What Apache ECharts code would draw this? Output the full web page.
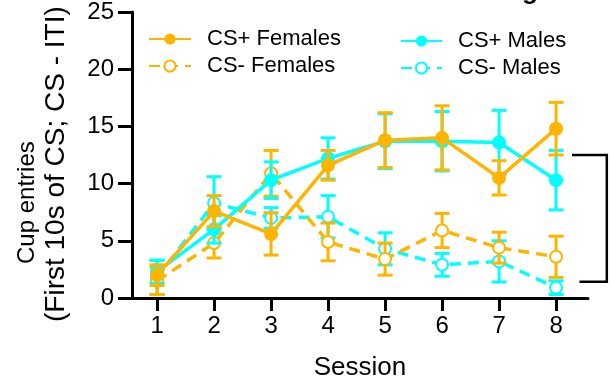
<!DOCTYPE html>
<html><head><meta charset="utf-8">
<script src="https://cdn.jsdelivr.net/npm/echarts@6/dist/echarts.min.js"></script>
<style>html,body{margin:0;padding:0;background:#fff}#c{width:611px;height:386px}</style>
</head><body><div id="c"></div>
<script>
const sessions = [1, 2, 3, 4, 5, 6, 7, 8];

const csPlusFemales    = [2.0, 7.6, 5.6, 11.6, 13.8, 14.0, 10.5, 14.8];
const csPlusFemalesErr = [0.9, 1.35, 1.85, 1.3, 2.4, 2.8, 1.5, 2.3];
const csMinusFemales    = [1.5, 4.8, 10.9, 4.9, 3.4, 5.9, 4.4, 3.6];
const csMinusFemalesErr = [1.2, 1.3, 2.0, 1.65, 1.4, 1.5, 1.35, 1.8];
const csPlusMales    = [2.3, 6.0, 10.3, 12.2, 13.7, 13.7, 13.6, 10.3];
const csPlusMalesErr = [1.0, 1.2, 1.6, 1.8, 2.4, 2.6, 2.8, 2.6];
const csMinusMales    = [1.8, 8.3, 7.0, 7.1, 4.3, 2.9, 3.2, 0.9];
const csMinusMalesErr = [1.5, 2.3, 0.9, 1.85, 1.4, 1.0, 1.8, 0.6];

const bracketPoints = [[8.28, 12.5], [8.89, 12.5], [8.89, 1.42], [8.41, 1.42]];

const ORANGE = '#FFB400', CYAN = '#00FFFF';
const FONT = '"Liberation Sans", Arial, sans-serif';

const chart = echarts.init(document.getElementById('c'));

function pts(vals) { return sessions.map((s, i) => [s, vals[i]]); }
function errData(vals, errs) { return sessions.map((s, i) => [s, vals[i] - errs[i], vals[i] + errs[i]]); }
function errSeries(vals, errs, color, z) {
  return {
    type: 'custom', silent: true, z: z, clip: false,
    data: errData(vals, errs),
    encode: { x: 0, y: [1, 2] },
    renderItem: function (params, api) {
      const x = api.value(0);
      const lo = api.coord([x, api.value(1)]);
      const hi = api.coord([x, api.value(2)]);
      const hw = 7.5;
      const st = { stroke: color, lineWidth: 3 };
      return { type: 'group', children: [
        { type: 'line', shape: { x1: lo[0], y1: lo[1], x2: hi[0], y2: hi[1] }, style: st },
        { type: 'line', shape: { x1: lo[0] - hw, y1: lo[1], x2: lo[0] + hw, y2: lo[1] }, style: st },
        { type: 'line', shape: { x1: hi[0] - hw, y1: hi[1], x2: hi[0] + hw, y2: hi[1] }, style: st }
      ]};
    }
  };
}
function lineSeries(name, vals, color, dashed, z) {
  return {
    name: name, type: 'line', z: z, data: pts(vals),
    symbol: dashed ? 'emptyCircle' : 'circle',
    symbolSize: dashed ? 12 : 14,
    itemStyle: { color: color, borderWidth: dashed ? 3 : 0, borderColor: color },
    lineStyle: { color: color, width: 3.5, type: dashed ? [11, 7] : 'solid' },
    emphasis: { disabled: true }, animation: false
  };
}

const legendText = { fontFamily: FONT, fontSize: 22, color: '#000', padding: [0, 0, 0, 11] };

const baseGraphic = [
  { type: 'text', x: 27, y: 264, rotation: Math.PI / 2,
    style: { text: 'Cup entries', font: '24px ' + FONT, fill: '#000', align: 'left', verticalAlign: 'middle' } },
  { type: 'text', x: 56, y: 322, rotation: Math.PI / 2,
    style: { text: '(First 10s of CS; CS - ITI)', font: '28px ' + FONT, fill: '#000', align: 'left', verticalAlign: 'middle' } },
  { type: 'text', x: 538, y: 4.5,
    style: { text: 'Pavlovian Training', font: 'bold 26px ' + FONT, fill: '#000', align: 'right', verticalAlign: 'bottom' } }
];

chart.setOption({
  animation: false,
  grid: { left: 132, right: 23, top: 12, bottom: 80 },
  legend: [
    { left: 143, top: 23, orient: 'vertical', itemWidth: 42, itemHeight: 14, itemGap: 5,
      data: ['CS+ Females', 'CS- Females'], textStyle: legendText, selectedMode: false },
    { left: 395, top: 25, orient: 'vertical', itemWidth: 41, itemHeight: 14, itemGap: 5,
      data: ['CS+ Males', 'CS- Males'], textStyle: legendText, selectedMode: false }
  ],
  xAxis: {
    type: 'value', min: 0.56, max: 8.56,
    name: 'Session', nameLocation: 'middle', nameGap: 57,
    nameTextStyle: { fontFamily: FONT, fontSize: 26, color: '#000' },
    axisLine: { lineStyle: { color: '#000', width: 3 } },
    axisTick: { customValues: sessions, length: 13, lineStyle: { color: '#000', width: 3 } },
    axisLabel: { customValues: sessions, fontFamily: FONT, fontSize: 24, color: '#000', margin: 16 },
    splitLine: { show: false }
  },
  yAxis: {
    type: 'value', min: 0, max: 25, interval: 5,
    axisLine: { show: true, lineStyle: { color: '#000', width: 3 } },
    axisTick: { show: true, length: 14, lineStyle: { color: '#000', width: 3 } },
    axisLabel: { fontFamily: FONT, fontSize: 24, color: '#000', margin: 18 },
    splitLine: { show: false }
  },
  graphic: baseGraphic,
  series: [
    errSeries(csMinusMales, csMinusMalesErr, CYAN, 2),
    lineSeries('CS- Males', csMinusMales, CYAN, true, 2),
    errSeries(csMinusFemales, csMinusFemalesErr, ORANGE, 3),
    lineSeries('CS- Females', csMinusFemales, ORANGE, true, 3),
    errSeries(csPlusMales, csPlusMalesErr, CYAN, 4),
    lineSeries('CS+ Males', csPlusMales, CYAN, false, 4),
    errSeries(csPlusFemales, csPlusFemalesErr, ORANGE, 5),
    lineSeries('CS+ Females', csPlusFemales, ORANGE, false, 5)
  ]
});

// significance bracket, positioned through the chart's own scales
const bracketPx = bracketPoints.map(p => chart.convertToPixel({ gridIndex: 0 }, p));
chart.setOption({
  graphic: baseGraphic.concat([
    { type: 'polyline', silent: true, z: 10, shape: { points: bracketPx },
      style: { stroke: '#000', lineWidth: 2.5, fill: null } }
  ])
}, { replaceMerge: ['graphic'] });
</script></body></html>
